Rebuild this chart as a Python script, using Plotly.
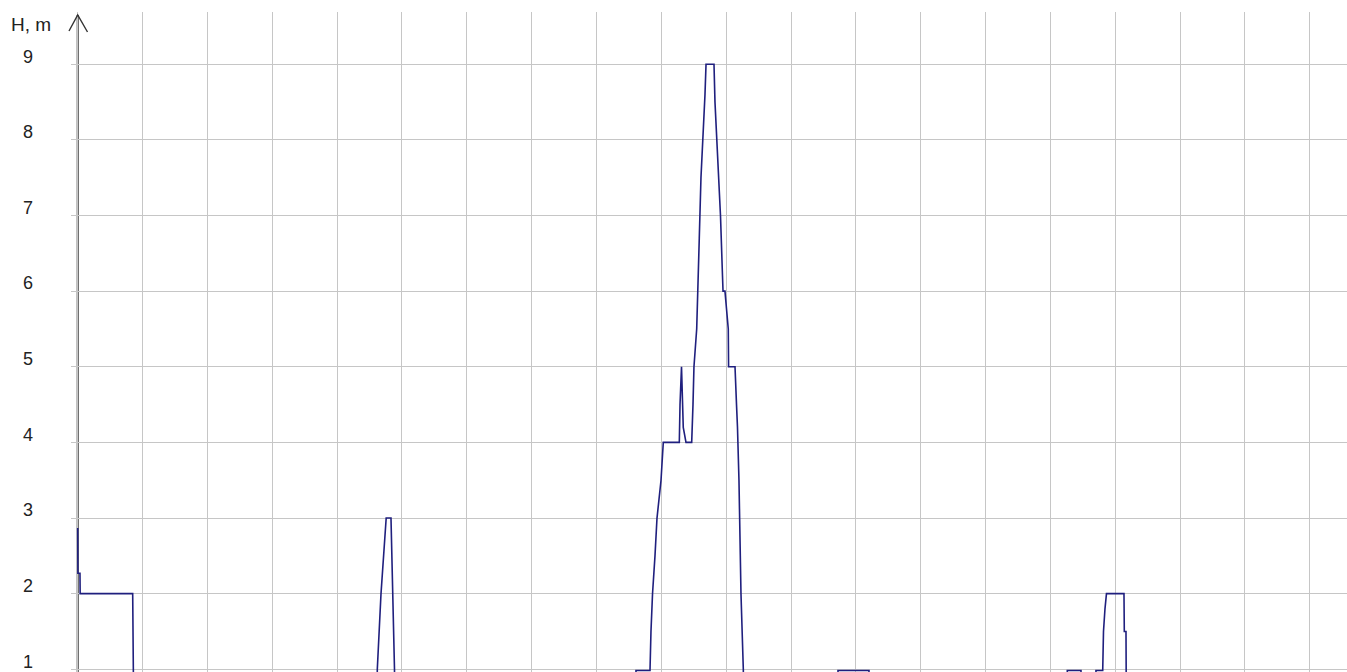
import plotly.graph_objects as go

# Height profile (x in grid units, H in metres; 0 = below visible range)
x_vals = [
    0.000, 0.003, 0.035, 0.038, 0.848, 0.868,
    4.607, 4.620, 4.677, 4.757, 4.831, 4.847, 4.870, 4.885, 4.893,
    8.601, 8.609, 8.825, 8.840, 8.864, 8.902, 8.933, 8.995, 9.030,
    9.277, 9.288, 9.311, 9.338, 9.380, 9.468, 9.488, 9.503, 9.545,
    9.565, 9.585, 9.611, 9.647, 9.673, 9.689, 9.812, 9.827, 9.855,
    9.881, 9.912, 9.943, 9.951, 9.981, 10.012, 10.032, 10.037, 10.136,
    10.159, 10.174, 10.197, 10.213, 10.228, 10.264, 10.271,
    11.716, 11.724, 12.202, 12.210,
    15.252, 15.260, 15.471, 15.479,
    15.695, 15.702, 15.806, 15.818, 15.841, 15.864, 16.134, 16.139,
    16.165, 16.173, 19.600,
]
h_vals = [
    2.87, 2.27, 2.27, 2.0, 2.0, 0,
    0, 1, 2, 3, 3, 2.5, 1.5, 1, 0,
    0, 0.985, 0.985, 1.5, 2, 2.5, 3, 3.5, 4,
    4, 4.5, 5, 4.2, 4, 4, 4.5, 5, 5.5,
    6, 6.7, 7.5, 8.1, 8.6, 9, 9, 8.5, 8,
    7.5, 7, 6.2, 6, 6, 5.7, 5.5, 5, 5,
    4.5, 4.2, 3.5, 2.5, 2, 1, 0,
    0, 0.985, 0.985, 0,
    0, 0.985, 0.985, 0,
    0, 0.985, 0.985, 1.5, 1.8, 2, 2, 1.5,
    1.5, 0, 0,
]
y_ticks = [1, 2, 3, 4, 5, 6, 7, 8, 9]
y_tick_labels = ["1", "2", "3", "4", "5", "6", "7", "8", "9"]
axis_title = "H, m"

W, H = 1347, 672
ML, MT = 71, 12
PW, PH = W - ML, H - MT

fig = go.Figure()
fig.add_trace(go.Scatter(
    x=x_vals, y=h_vals, mode="lines",
    line=dict(color="#1f1f7e", width=1.6),
    hoverinfo="skip", showlegend=False,
))

font_family = "Liberation Sans, Arial, sans-serif"

fig.update_layout(
    width=W, height=H, autosize=False,
    margin=dict(l=ML, r=0, t=MT, b=0, pad=0),
    paper_bgcolor="white", plot_bgcolor="white",
    xaxis=dict(
        range=[-0.1033, 19.573], showgrid=True, gridcolor="#c6c6c6", gridwidth=1.2,
        tick0=0, dtick=1, showticklabels=False, ticks="", zeroline=False,
        showline=False, fixedrange=True,
    ),
    yaxis=dict(
        range=[0.9643, 9.6915], showgrid=True, gridcolor="#c6c6c6", gridwidth=1.2,
        tickvals=y_ticks, ticktext=y_tick_labels, ticks="",
        tickfont=dict(family=font_family, size=18, color="#222222"),
        ticklabelstandoff=37, ticklabelshift=-8,
        zeroline=False, showline=False, fixedrange=True,
    ),
    font=dict(family=font_family),
)

# y axis line with arrow head
tip_x = (77.7 - ML) / PW
tip_y = (H - 15) / PH
fig.add_shape(type="line", xref="x", yref="paper", x0=0, x1=0, y0=0, y1=tip_y,
              line=dict(color="#333333", width=2), layer="between")
fig.add_shape(type="path", xref="paper", yref="paper",
              path=f"M {(69.0 - ML) / PW} {(H - 31.0) / PH} L {tip_x} {tip_y} L {(87.5 - ML) / PW} {(H - 32.0) / PH}",
              line=dict(color="#333333", width=1.4), layer="above")

fig.add_annotation(
    text=axis_title, xref="paper", yref="paper",
    x=(9 - ML) / PW, y=(H - 24) / PH, xanchor="left", yanchor="middle",
    showarrow=False, font=dict(family=font_family, size=19, color="#222222"),
)

fig.write_html("out.html", config={"displayModeBar": False},
               post_script="document.body.style.margin='0';")
